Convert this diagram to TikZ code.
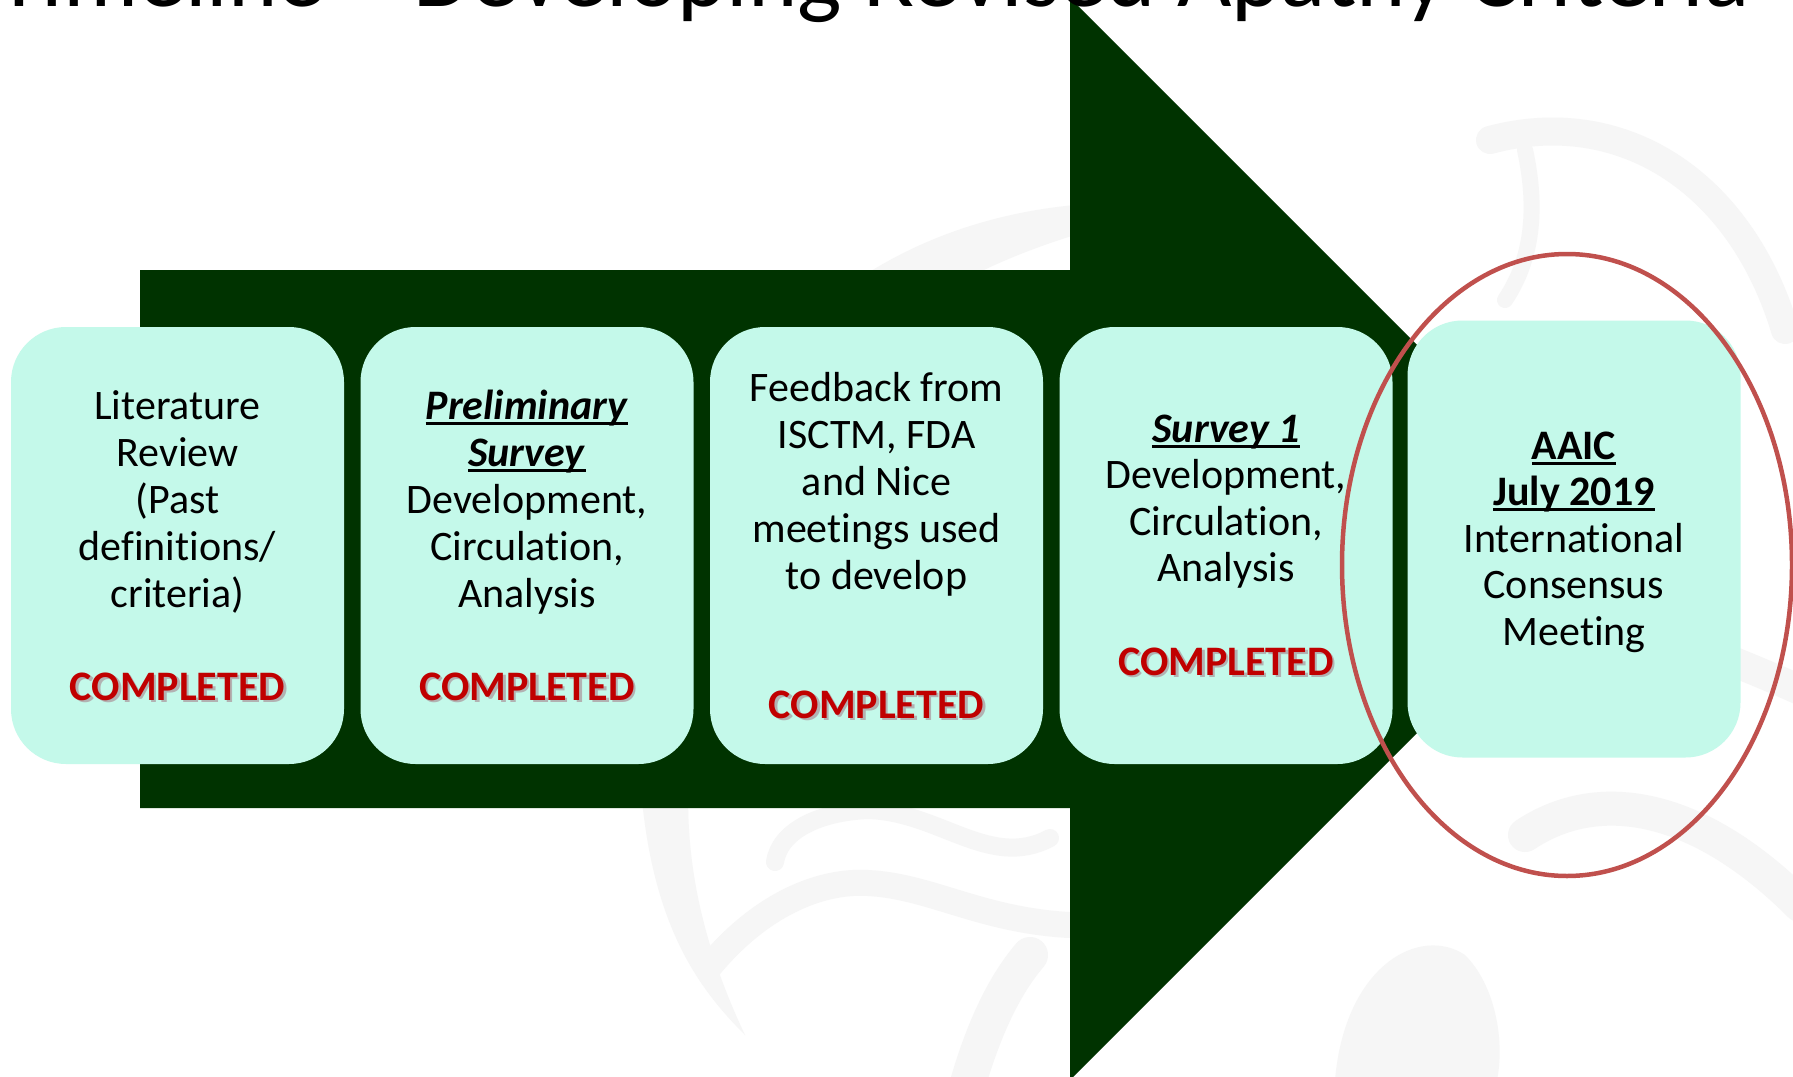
\documentclass[tikz,border=0pt]{standalone}
\usepackage{fontspec}
\setmainfont[Ligatures={NoCommon}]{Carlito}
\usetikzlibrary{shapes.geometric}

\definecolor{arrowgreen}{RGB}{0,51,0}
\definecolor{boxmint}{RGB}{196,249,234}
\definecolor{donered}{RGB}{192,0,0}
\definecolor{ringred}{RGB}{192,80,77}
\definecolor{wmgray}{RGB}{246,246,246}

% underline sitting just below the baseline
\newsavebox\ulbox
\newcommand\uline[1]{\sbox\ulbox{#1}\rlap{\rule[-0.14em]{\wd\ulbox}{0.07em}}\usebox\ulbox}

\tikzset{
  stepbox/.style={fill=boxmint, rounded corners=55pt, minimum width=333pt,
    minimum height=437pt, inner sep=0pt},
  txtline/.style={font=\fontsize{42}{47}\selectfont, anchor=base, inner sep=0pt},
  donetxt/.style={font=\fontsize{42}{47}\selectfont\bfseries, text=donered,
    anchor=base, inner sep=0pt},
  doneshadow/.style={font=\fontsize{42}{47}\selectfont\bfseries, text=black!30,
    anchor=base, inner sep=0pt},
  wmstroke/.style={draw=wmgray, line cap=round},
  titletxt/.style={font=\fontsize{94}{100}\selectfont, anchor=base west, inner sep=0pt},
}

\begin{document}
\begin{tikzpicture}[x=1pt,y=-1pt]
\useasboundingbox (0,0) rectangle (1793,1076);
\clip (0,0) rectangle (1793,1076);
\fill[white] (0,0) rectangle (1793,1076);

% faint watermark swirls
\fill[wmgray] (1075,205) .. controls (760,235) and (615,520) .. (642,800)
  .. controls (655,930) and (700,990) .. (745,1035)
  .. controls (700,940) and (682,850) .. (690,760)
  .. controls (710,480) and (830,310) .. (1075,235) -- cycle;
\draw[wmstroke, line width=26pt] (709,967) .. controls (760,905) and (820,880) .. (868,883)
  .. controls (930,886) and (980,920) .. (1069,925);
\draw[wmstroke, line width=18pt] (775,862) .. controls (780,830) and (820,812) .. (868,810)
  .. controls (940,812) and (990,870) .. (1050,838);
\draw[wmstroke, line width=36pt] (1030,955) .. controls (1000,990) and (980,1040) .. (966,1090);
\draw[wmstroke, line width=28pt] (1490,140) .. controls (1620,105) and (1740,180) .. (1785,330);
\draw[wmstroke, line width=16pt] (1525,150) .. controls (1538,210) and (1532,260) .. (1505,300);
\draw[wmstroke, line width=30pt] (1665,635) .. controls (1710,652) and (1760,672) .. (1800,690);
\draw[wmstroke, line width=34pt] (1525,835) .. controls (1600,785) and (1700,805) .. (1800,905);
\fill[wmgray] (1335,1080) .. controls (1345,965) and (1420,925) .. (1465,955)
  .. controls (1495,985) and (1505,1040) .. (1497,1080) -- cycle;

% main arrow
\fill[arrowgreen] (140,270) -- (1070,270) -- (1070,-2) -- (1611,539)
  -- (1070,1080) -- (1070,808) -- (140,808) -- cycle;

% title, cut at the top edge
\node[titletxt] (title) at (-4,6) {Timeline – Developing Revised Apathy Criteria};

% step boxes
\node[stepbox] (box1) at (177.5,545.5) {};
\node[stepbox] (box2) at (527,545.5) {};
\node[stepbox] (box3) at (876.5,545.5) {};
\node[stepbox] (box4) at (1226,545.5) {};
\node[stepbox] (box5) at (1574,539) {};

% box texts
\foreach \t [count=\i from 0] in {Literature, Review, {(Past}, definitions/, {criteria)}}
  \node[txtline] (b1-\i) at (177.5, 419+47*\i) {\t};
\foreach \t [count=\i from 0] in {\uline{\textbf{\textit{Preliminary}}}, \uline{\textbf{\textit{Survey}}},
    {Development,}, {Circulation,}, Analysis}
  \node[txtline] (b2-\i) at (527, 419+47*\i) {\t};
\foreach \t [count=\i from 0] in {Feedback from, {ISCTM, FDA}, and Nice, meetings used, to develop}
  \node[txtline] (b3-\i) at (876.5, 401+47*\i) {\t};
\foreach \t [count=\i from 0] in {\uline{\textbf{\textit{Survey 1}}}, {Development,}, {Circulation,}, Analysis}
  \node[txtline] (b4-\i) at (1226, 442+46.5*\i) {\t};
\foreach \t [count=\i from 0] in {\uline{\textbf{AAIC}}, \uline{\textbf{July 2019}},
    International, Consensus, Meeting}
  \node[txtline] (b5-\i) at (1574, 459+46.5*\i) {\t};

% completion marks with a soft shadow
\foreach \n/\x/\y in {1/177.5/700, 2/527/700, 3/876.5/718, 4/1226/675} {
  \node[doneshadow] (s\n) at (\x+2.5,\y+2.5) {COMPLETED};
  \node[donetxt] (d\n) at (\x,\y) {COMPLETED};
}

% highlight ring around the last step
\node[draw=ringred, line width=4.5pt, ellipse, minimum width=450pt,
  minimum height=622pt, inner sep=0pt] (ring) at (1567,565) {};
\end{tikzpicture}
\end{document}
